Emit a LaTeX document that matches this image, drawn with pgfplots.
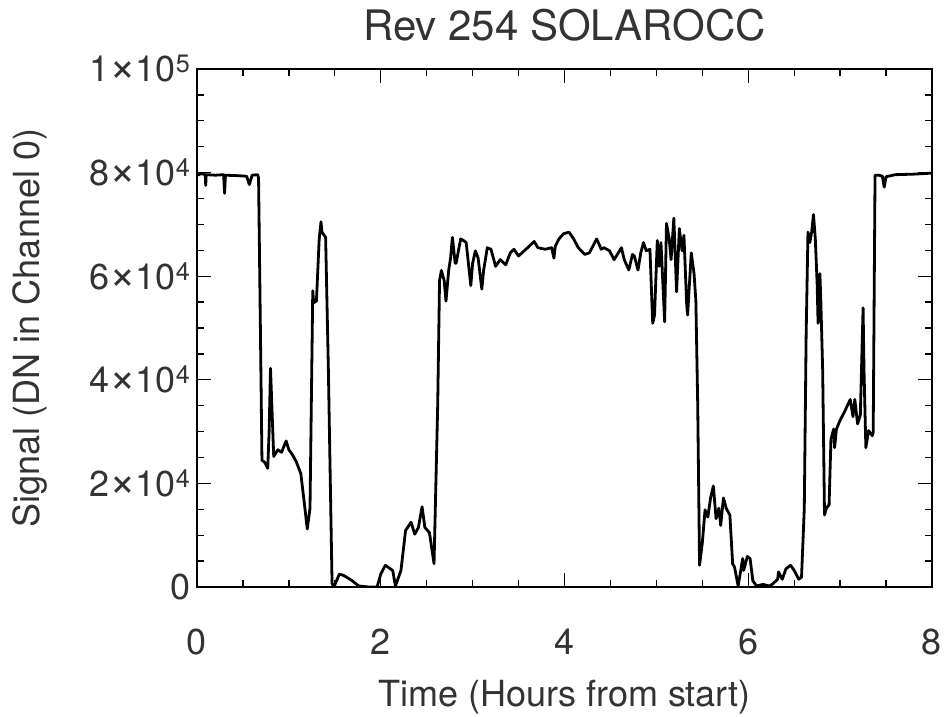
\documentclass[border=0pt]{standalone}
\usepackage{fontspec}
\setmainfont{TeX Gyre Heros}
\usepackage{pgfplots}
\pgfplotsset{compat=1.18}
\newcommand{\tm}{{\fontsize{46}{46}\selectfont ×}}
\begin{document}
\begin{tikzpicture}
\useasboundingbox (-197pt,-129pt) rectangle (748pt,587pt);
\begin{axis}[
  at={(0,0)}, anchor=south west,
  scale only axis, width=735pt, height=518pt,
  xmin=0, xmax=8, ymin=0, ymax=100000,
  xtick={0,2,4,6,8}, minor x tick num=3,
  ytick={0,20000,40000,60000,80000,100000}, minor y tick num=3,
  yticklabels={0,{2\tm10\textsuperscript{4}},{4\tm10\textsuperscript{4}},{6\tm10\textsuperscript{4}},{8\tm10\textsuperscript{4}},{1\tm10\textsuperscript{5}}},
  scaled y ticks=false,
  tick align=inside,
  major tick length=14pt, minor tick length=7pt,
  every tick/.style={black, line width=1.3pt},
  axis line style={line width=1.6pt},
  tick label style={font=\fontsize{36}{40}\selectfont, text=black!80},
  xticklabel style={yshift=-38pt},
  yticklabel style={xshift=-3pt},
  /pgf/number format/assume math mode=true,
  xlabel={Time (Hours from start)},
  ylabel={Signal (DN in Channel 0)},
  label style={font=\fontsize{36}{40}\selectfont, text=black!80},
  xlabel style={at={(axis description cs:0.5,-0.2124)}, anchor=center},
  ylabel style={at={(axis description cs:-0.227,0.5)}, anchor=center, rotate=0},
  title={Rev 254 SOLAROCC},
  title style={at={(axis description cs:0.5,1.0734)}, anchor=center, font=\fontsize{42}{46}\selectfont, text=black!80},
]
\addplot[black, line width=2.8pt, line join=round] coordinates {
(0,79500) (0.05,79800) (0.09,79600) (0.095,77500) (0.10,79600) (0.2,79500) (0.29,79600) (0.30,76000) (0.31,79500) (0.45,79400) (0.54,79300) (0.57,77700) (0.60,79500) (0.66,79600)
(0.67,79000) (0.69,50000) (0.707,24500) (0.74,24000) (0.77,22900) (0.785,30000) (0.80,42200) (0.815,35000) (0.835,25200) (0.88,26500) (0.92,26000) (0.97,28200) (1.0,26500) (1.04,25500) (1.08,24200) (1.13,21900) (1.17,15900) (1.20,11200) (1.23,15200) (1.26,57200) (1.27,54900) (1.30,55200) (1.33,67200) (1.35,70500) (1.36,68500) (1.40,67500) (1.43,41900) (1.47,700) (1.49,0)
(1.55,2500) (1.60,2200) (1.69,1200) (1.76,200) (1.87,0) (1.96,0) (2.0,2500) (2.05,4200) (2.13,3200) (2.16,200) (2.22,3200) (2.27,10900) (2.33,12500) (2.37,10200) (2.41,11500) (2.45,15500) (2.48,11500) (2.53,10500) (2.58,4500)
(2.62,35200) (2.64,59200) (2.66,61100) (2.69,59200) (2.71,55200) (2.74,61200) (2.76,63500) (2.78,67500) (2.81,62500) (2.82,62500) (2.87,67200) (2.90,66900) (2.93,66500) (2.98,58200) (3.0,62500) (3.03,64900) (3.06,63500) (3.10,57500) (3.12,61200) (3.16,65500) (3.20,65200) (3.25,61900) (3.30,63200) (3.36,62200) (3.41,64500) (3.45,65200) (3.50,63900) (3.58,65200) (3.67,66700) (3.71,65500) (3.79,65200) (3.86,65500) (3.885,63500) (3.90,65800) (3.94,67200) (3.99,68200) (4.05,68500) (4.10,67200) (4.15,65500)
(4.22,64200) (4.27,64500) (4.30,65500) (4.35,67200) (4.40,65200) (4.43,65500) (4.49,64900) (4.54,63200) (4.62,65500) (4.65,63200) (4.70,61200) (4.74,64200) (4.76,63900) (4.80,61200) (4.83,64500) (4.86,66500) (4.89,64900) (4.93,65200) (4.96,50900) (4.98,52500) (5.01,66900) (5.03,61900) (5.05,66500) (5.09,51200) (5.11,70200) (5.14,67200) (5.16,63200) (5.19,71200) (5.22,57000) (5.25,69200) (5.28,64900) (5.30,67900) (5.33,54500) (5.34,52500) (5.38,64500) (5.41,60500) (5.43,55200) (5.45,35200) (5.47,4200)
(5.50,8500) (5.53,14900) (5.56,13500) (5.59,17200) (5.62,19500) (5.65,13200) (5.68,15200) (5.70,11900) (5.73,17200) (5.76,15200) (5.80,13900) (5.83,4500) (5.85,3900) (5.89,200) (5.94,5500) (5.95,3200) (5.99,5900) (6.02,5500) (6.05,1200) (6.09,200) (6.16,500) (6.23,200) (6.26,500) (6.32,1500) (6.33,2900) (6.37,1500) (6.41,3500) (6.46,4200) (6.50,3200) (6.55,1500) (6.58,1900)
(6.61,15200) (6.63,48500) (6.65,68500) (6.67,66500) (6.69,68500) (6.71,71900) (6.73,67200) (6.75,58500) (6.76,50900) (6.78,60500) (6.79,55200) (6.81,41900) (6.83,13900) (6.85,15200) (6.88,15900) (6.90,28500) (6.93,30500) (6.94,26900) (6.96,30500) (7.0,32200) (7.05,33900) (7.11,36200) (7.14,32900) (7.16,36200) (7.19,31500) (7.22,33200) (7.25,53900) (7.26,41900) (7.28,26900) (7.31,30200) (7.35,29200) (7.36,29900)
(7.38,79500) (7.42,79500) (7.46,79300) (7.48,77200) (7.50,79200) (7.6,79600) (7.8,79700) (8.0,79900)
};
\end{axis}
\end{tikzpicture}
\end{document}
